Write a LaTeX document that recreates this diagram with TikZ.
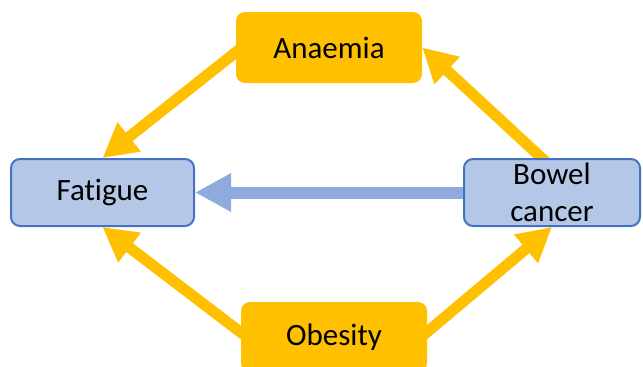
\documentclass[tikz,border=0pt]{standalone}
\usepackage{fontspec}
\setmainfont{Carlito}[Ligatures={NoCommon}]
\usetikzlibrary{arrows.meta,backgrounds}

\definecolor{amber}{HTML}{FFC000}
\definecolor{paleblue}{HTML}{B4C7E7}
\definecolor{edgeblue}{HTML}{4472C4}
\definecolor{linkblue}{HTML}{8FAADC}

\tikzset{
  label font/.style={font=\fontsize{31}{37}\selectfont, text=black, align=center},
  causebox/.style={label font, fill=amber, draw=none, rounded corners=9pt,
    minimum width=186pt, minimum height=71pt, inner sep=0pt},
  bluebox/.style={label font, fill=paleblue, draw=edgeblue, line width=2pt,
    rounded corners=9pt, minimum height=67pt, inner sep=0pt},
  goldarrow/.style={draw=amber, line width=11pt,
    -{Triangle[width=35pt,length=34pt]}},
  bluearrow/.style={draw=linkblue, line width=12pt,
    -{Triangle[width=36pt,length=36pt]}},
}

\begin{document}
\begin{tikzpicture}[x=1pt,y=-1pt]
  \useasboundingbox (0,0) rectangle (643,367);
  \clip (0,0) rectangle (643,367);

  % boxes
  \node[causebox] (anaemia) at (329,47.5) {Anaemia};
  \node[causebox, minimum height=70pt] (obesity) at (334,337) {Obesity};
  \node[bluebox, minimum width=183pt] (fatigue) at (102.5,192.5) {Fatigue};
  \node[bluebox, minimum width=176pt] (bowel) at (552,192.5) {Bowel\\cancer};

  % causal links, drawn behind the boxes
  \begin{pgfonlayer}{background}
    \draw[goldarrow] ([xshift=6pt]anaemia.west) -- (fatigue.north);
    \draw[goldarrow] ([xshift=-6pt,yshift=-4pt]bowel.north) -- (anaemia.east);
    \draw[goldarrow] ([xshift=6pt]obesity.west) -- (fatigue.south);
    \draw[goldarrow] ([xshift=-6pt]obesity.east) -- (bowel.south);
    \draw[bluearrow] (bowel.west) -- (fatigue.east);
  \end{pgfonlayer}
\end{tikzpicture}
\end{document}
